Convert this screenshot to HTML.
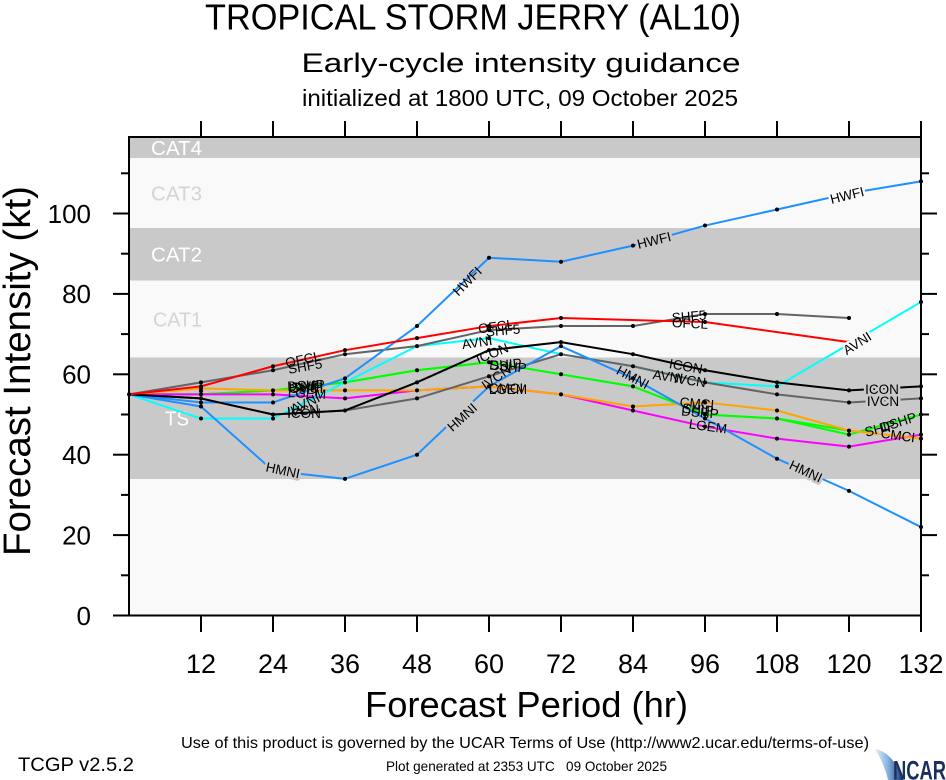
<!DOCTYPE html>
<html>
<head>
<meta charset="utf-8">
<style>
  html,body{margin:0;padding:0;background:#fff;}
  svg{display:block;}
  text{font-family:"Liberation Sans", Arial, sans-serif;}
</style>
</head>
<body>
<svg width="946" height="780" viewBox="0 0 946 780" xmlns="http://www.w3.org/2000/svg">
  <defs>
    <linearGradient id="sw" x1="0" y1="0" x2="1" y2="0">
      <stop offset="0" stop-color="#e3eef9"/>
      <stop offset="0.45" stop-color="#86b6e3"/>
      <stop offset="1" stop-color="#1b3570"/>
    </linearGradient>
  </defs>
  <rect x="0" y="0" width="946" height="780" fill="#ffffff"/>

  <!-- Titles -->
  <text x="473" y="29.5" font-size="36" text-anchor="middle" textLength="536" lengthAdjust="spacingAndGlyphs">TROPICAL STORM JERRY (AL10)</text>
  <text x="521" y="72" font-size="27" text-anchor="middle" textLength="439" lengthAdjust="spacingAndGlyphs">Early-cycle intensity guidance</text>
  <text x="520" y="106" font-size="23" text-anchor="middle" textLength="436" lengthAdjust="spacingAndGlyphs">initialized at 1800 UTC, 09 October 2025</text>

  <!-- Category bands -->
  <rect x="129" y="137" width="792" height="21" fill="#c9c9c9"/>
  <rect x="129" y="158" width="792" height="70" fill="#f9f9f9"/>
  <rect x="129" y="228" width="792" height="52.5" fill="#c9c9c9"/>
  <rect x="129" y="280.5" width="792" height="77" fill="#f9f9f9"/>
  <rect x="129" y="357.5" width="792" height="121.5" fill="#c9c9c9"/>
  <rect x="129" y="479" width="792" height="136.5" fill="#f9f9f9"/>

  <text x="151" y="155" font-size="20" fill="#ffffff" textLength="51" lengthAdjust="spacingAndGlyphs">CAT4</text>
  <text x="151" y="200.7" font-size="20" fill="#d4d4d4" textLength="51" lengthAdjust="spacingAndGlyphs">CAT3</text>
  <text x="151" y="261.7" font-size="20" fill="#ffffff" textLength="51" lengthAdjust="spacingAndGlyphs">CAT2</text>
  <text x="153" y="326.7" font-size="20" fill="#d4d4d4" textLength="49" lengthAdjust="spacingAndGlyphs">CAT1</text>
  <text x="165" y="425.7" font-size="20" fill="#ffffff" textLength="24" lengthAdjust="spacingAndGlyphs">TS</text>

  <!-- Series lines -->
  <g fill="none" stroke-width="2" stroke-linejoin="round" stroke-linecap="round">
    <polyline stroke="#00ff00" points="129,394.4 201,394.4 273,390.38 345,382.34 417,370.28 489,362.24 561,374.3 633,386.36 705,414.5 777,418.52 849,430.58"/>
    <polyline stroke="#00ff00" points="129,394.4 201,394.4 273,390.38 345,382.34 417,370.28 489,362.24 561,374.3 633,386.36 705,414.5 777,418.52 849,434.6 921,414.5"/>
    <polyline stroke="#ff00ff" points="129,394.4 201,394.4 273,394.4 345,398.42 417,390.38 489,386.36 561,394.4 633,410.48 705,426.56 777,438.62 849,446.66 921,434.6"/>
    <polyline stroke="#ffa500" points="129,394.4 201,388.37 273,390.38 345,390.38 417,390.38 489,386.36 561,394.4 633,406.46 705,402.44 777,410.48 849,430.58 921,438.62"/>
    <polyline stroke="#00ffff" points="129,394.4 201,418.52 273,418.52 345,382.34 417,346.16 489,338.12 561,354.2 633,366.26 705,382.34 777,386.36 849,344.15 921,301.94"/>
    <polyline stroke="#646464" points="129,394.4 201,398.42 273,414.5 345,410.48 417,398.42 489,376.31 561,354.2 633,366.26 705,382.34 777,394.4 849,402.44 921,398.42"/>
    <polyline stroke="#646464" points="129,394.4 201,382.34 273,370.28 345,354.2 417,346.16 489,330.08 561,326.06 633,326.06 705,314 777,314 849,318.02"/>
    <polyline stroke="#1e90ff" points="129,394.4 201,406.46 273,470.78 345,478.82 417,454.7 489,386.36 561,346.16 633,378.32 705,418.52 777,458.72 849,490.88 921,527.06"/>
    <polyline stroke="#1e90ff" points="129,394.4 201,402.44 273,402.44 345,378.32 417,326.06 489,257.72 561,261.74 633,245.66 705,225.56 777,209.48 849,193.4 921,181.34"/>
    <polyline stroke="#000000" points="129,394.4 201,398.42 273,414.5 345,410.48 417,382.34 489,350.18 561,342.14 633,354.2 705,370.28 777,382.34 849,390.38 921,386.36"/>
    <polyline stroke="#ff0000" points="129,394.4 201,386.36 273,366.26 345,350.18 417,338.12 489,326.06 561,318.02 705,322.04 849,342.14"/>
  </g>

  <!-- Data point markers -->
  <g fill="#000">
    <circle cx="129" cy="394.4" r="2"/>
    <circle cx="201" cy="382.34" r="2"/><circle cx="201" cy="386.36" r="2"/><circle cx="201" cy="388.37" r="2"/>
    <circle cx="201" cy="394.4" r="2"/><circle cx="201" cy="398.42" r="2"/><circle cx="201" cy="402.44" r="2"/>
    <circle cx="201" cy="406.46" r="2"/><circle cx="201" cy="418.52" r="2"/><circle cx="201" cy="391" r="2"/>
    <circle cx="273" cy="366.26" r="2"/><circle cx="273" cy="370.28" r="2"/><circle cx="273" cy="390.38" r="2"/>
    <circle cx="273" cy="394.4" r="2"/><circle cx="273" cy="402.44" r="2"/><circle cx="273" cy="414.5" r="2"/>
    <circle cx="273" cy="418.52" r="2"/><circle cx="273" cy="470.78" r="2"/>
    <circle cx="345" cy="350.18" r="2"/><circle cx="345" cy="354.2" r="2"/><circle cx="345" cy="378.32" r="2"/>
    <circle cx="345" cy="382.34" r="2"/><circle cx="345" cy="390.38" r="2"/><circle cx="345" cy="398.42" r="2"/>
    <circle cx="345" cy="410.48" r="2"/><circle cx="345" cy="478.82" r="2"/>
    <circle cx="417" cy="326.06" r="2"/><circle cx="417" cy="338.12" r="2"/><circle cx="417" cy="346.16" r="2"/>
    <circle cx="417" cy="370.28" r="2"/><circle cx="417" cy="382.34" r="2"/><circle cx="417" cy="390.38" r="2"/>
    <circle cx="417" cy="398.42" r="2"/><circle cx="417" cy="454.7" r="2"/>
    <circle cx="489" cy="257.72" r="2"/><circle cx="489" cy="326.06" r="2"/><circle cx="489" cy="330.08" r="2"/>
    <circle cx="489" cy="338.12" r="2"/><circle cx="489" cy="350.18" r="2"/><circle cx="489" cy="362.24" r="2"/>
    <circle cx="489" cy="376.31" r="2"/><circle cx="489" cy="386.36" r="2"/>
    <circle cx="561" cy="261.74" r="2"/><circle cx="561" cy="318.02" r="2"/><circle cx="561" cy="326.06" r="2"/>
    <circle cx="561" cy="342.14" r="2"/><circle cx="561" cy="346.16" r="2"/><circle cx="561" cy="354.2" r="2"/>
    <circle cx="561" cy="374.3" r="2"/><circle cx="561" cy="394.4" r="2"/>
    <circle cx="633" cy="245.66" r="2"/><circle cx="633" cy="326.06" r="2"/><circle cx="633" cy="354.2" r="2"/>
    <circle cx="633" cy="366.26" r="2"/><circle cx="633" cy="378.32" r="2"/><circle cx="633" cy="386.36" r="2"/>
    <circle cx="633" cy="406.46" r="2"/><circle cx="633" cy="410.48" r="2"/>
    <circle cx="705" cy="225.56" r="2"/><circle cx="705" cy="314" r="2"/><circle cx="705" cy="322.04" r="2"/>
    <circle cx="705" cy="370.28" r="2"/><circle cx="705" cy="382.34" r="2"/><circle cx="705" cy="402.44" r="2"/>
    <circle cx="705" cy="414.5" r="2"/><circle cx="705" cy="418.52" r="2"/><circle cx="705" cy="426.56" r="2"/>
    <circle cx="777" cy="209.48" r="2"/><circle cx="777" cy="314" r="2"/><circle cx="777" cy="382.34" r="2"/>
    <circle cx="777" cy="386.36" r="2"/><circle cx="777" cy="394.4" r="2"/><circle cx="777" cy="410.48" r="2"/>
    <circle cx="777" cy="418.52" r="2"/><circle cx="777" cy="438.62" r="2"/><circle cx="777" cy="458.72" r="2"/>
    <circle cx="849" cy="193.4" r="2"/><circle cx="849" cy="318.02" r="2"/><circle cx="849" cy="342.14" r="2"/>
    <circle cx="849" cy="344.15" r="2"/><circle cx="849" cy="390.38" r="2"/><circle cx="849" cy="402.44" r="2"/>
    <circle cx="849" cy="430.58" r="2"/><circle cx="849" cy="434.6" r="2"/><circle cx="849" cy="446.66" r="2"/>
    <circle cx="849" cy="490.88" r="2"/>
    <circle cx="921" cy="181.34" r="2"/><circle cx="921" cy="301.94" r="2"/><circle cx="921" cy="386.36" r="2"/>
    <circle cx="921" cy="398.42" r="2"/><circle cx="921" cy="414.5" r="2"/><circle cx="921" cy="434.6" r="2"/>
    <circle cx="921" cy="438.62" r="2"/><circle cx="921" cy="527.06" r="2"/>
  </g>

  <!-- Isolated line labels with band-colour halo (line gaps) -->
  <g font-size="13.5" fill="#000" text-anchor="middle" stroke-width="5" stroke-linejoin="round" paint-order="stroke">
    <text transform="translate(654,240) rotate(-14)" dy="5" stroke="#c9c9c9">HWFI</text>
    <text transform="translate(847,195) rotate(-14)" dy="5" stroke="#f9f9f9">HWFI</text>
    <text transform="translate(283,470) rotate(12)" dy="5" stroke="#c9c9c9">HMNI</text>
    <text transform="translate(462,417) rotate(-42)" dy="5" stroke="#c9c9c9">HMNI</text>
    <text transform="translate(806,471) rotate(25)" dy="5" stroke="#c9c9c9">HMNI</text>
    <text transform="translate(857,343) rotate(-32)" dy="5" stroke="#f9f9f9">AVNI</text>
    <text transform="translate(882,389)" dy="5" stroke="#c9c9c9">ICON</text>
    <text transform="translate(883,401)" dy="5" stroke="#c9c9c9">IVCN</text>
  </g>

  <!-- Other line labels -->
  <g font-size="13.5" fill="#000" text-anchor="middle">
    <text transform="translate(303,359) rotate(-12)" dy="5">OFCL</text>
    <text transform="translate(305,366) rotate(-10)" dy="5">SHF5</text>
    <text transform="translate(306,385) rotate(-3)" dy="5">DSHP</text>
    <text transform="translate(307,387)" dy="5">SHIP</text>
    <text transform="translate(306,388)" dy="5">CMCI</text>
    <text transform="translate(306,386) rotate(-5)" dy="5">HWFI</text>
    <text transform="translate(307,393) rotate(3)" dy="5">LGEM</text>
    <text transform="translate(305,403) rotate(-25)" dy="5">AVNI</text>
    <text transform="translate(303,410) rotate(-5)" dy="5">IVCN</text>
    <text transform="translate(304,413)" dy="5">ICON</text>
    <text transform="translate(467,281) rotate(-45)" dy="5">HWFI</text>
    <text transform="translate(496,326) rotate(-8)" dy="5">OFCL</text>
    <text transform="translate(503,330) rotate(-5)" dy="5">SHF5</text>
    <text transform="translate(477,342) rotate(-8)" dy="5">AVNI</text>
    <text transform="translate(492,353) rotate(-22)" dy="5">ICON</text>
    <text transform="translate(506,364) rotate(-5)" dy="5">SHIP</text>
    <text transform="translate(508,366) rotate(5)" dy="5">DSHP</text>
    <text transform="translate(496,377) rotate(-35)" dy="5">IVCN</text>
    <text transform="translate(508,389)" dy="5">LGEM</text>
    <text transform="translate(506,388)" dy="5">CMCI</text>
    <text transform="translate(689,316) rotate(-5)" dy="5">SHF5</text>
    <text transform="translate(690,323) rotate(3)" dy="5">OFCL</text>
    <text transform="translate(686,366) rotate(10)" dy="5">ICON</text>
    <text transform="translate(668,376) rotate(8)" dy="5">AVNI</text>
    <text transform="translate(690,380) rotate(8)" dy="5">IVCN</text>
    <text transform="translate(633,377) rotate(28)" dy="5">HMNI</text>
    <text transform="translate(697,403) rotate(5)" dy="5">CMCI</text>
    <text transform="translate(698,409) rotate(5)" dy="5">SHIP</text>
    <text transform="translate(700,412) rotate(5)" dy="5">DSHP</text>
    <text transform="translate(708,426) rotate(8)" dy="5">LGEM</text>
    <text transform="translate(880,428) rotate(-15)" dy="5">SHIP</text>
    <text transform="translate(898,422) rotate(-18)" dy="5">DSHP</text>
    <text transform="translate(898,435) rotate(8)" dy="5">CMCI</text>
  </g>

  <!-- Frame -->
  <rect x="129" y="137" width="792" height="478.5" fill="none" stroke="#000" stroke-width="2"/>

  <!-- Ticks -->
  <g stroke="#000" stroke-width="2">
    <line x1="113" y1="615.5" x2="129" y2="615.5"/>
    <line x1="113" y1="535.1" x2="129" y2="535.1"/>
    <line x1="113" y1="454.7" x2="129" y2="454.7"/>
    <line x1="113" y1="374.3" x2="129" y2="374.3"/>
    <line x1="113" y1="293.9" x2="129" y2="293.9"/>
    <line x1="113" y1="213.5" x2="129" y2="213.5"/>
    <line x1="121" y1="575.3" x2="129" y2="575.3"/>
    <line x1="121" y1="494.9" x2="129" y2="494.9"/>
    <line x1="121" y1="414.5" x2="129" y2="414.5"/>
    <line x1="121" y1="334.1" x2="129" y2="334.1"/>
    <line x1="121" y1="253.7" x2="129" y2="253.7"/>
    <line x1="121" y1="173.3" x2="129" y2="173.3"/>
    <line x1="921" y1="535.1" x2="937" y2="535.1"/>
    <line x1="921" y1="454.7" x2="937" y2="454.7"/>
    <line x1="921" y1="374.3" x2="937" y2="374.3"/>
    <line x1="921" y1="293.9" x2="937" y2="293.9"/>
    <line x1="921" y1="213.5" x2="937" y2="213.5"/>
    <line x1="921" y1="575.3" x2="929" y2="575.3"/>
    <line x1="921" y1="494.9" x2="929" y2="494.9"/>
    <line x1="921" y1="414.5" x2="929" y2="414.5"/>
    <line x1="921" y1="334.1" x2="929" y2="334.1"/>
    <line x1="921" y1="253.7" x2="929" y2="253.7"/>
    <line x1="921" y1="173.3" x2="929" y2="173.3"/>
    <line x1="201" y1="615.5" x2="201" y2="632"/>
    <line x1="273" y1="615.5" x2="273" y2="632"/>
    <line x1="345" y1="615.5" x2="345" y2="632"/>
    <line x1="417" y1="615.5" x2="417" y2="632"/>
    <line x1="489" y1="615.5" x2="489" y2="632"/>
    <line x1="561" y1="615.5" x2="561" y2="632"/>
    <line x1="633" y1="615.5" x2="633" y2="632"/>
    <line x1="705" y1="615.5" x2="705" y2="632"/>
    <line x1="777" y1="615.5" x2="777" y2="632"/>
    <line x1="849" y1="615.5" x2="849" y2="632"/>
    <line x1="921" y1="615.5" x2="921" y2="632"/>
    <line x1="201" y1="137" x2="201" y2="121"/>
    <line x1="273" y1="137" x2="273" y2="121"/>
    <line x1="345" y1="137" x2="345" y2="121"/>
    <line x1="417" y1="137" x2="417" y2="121"/>
    <line x1="489" y1="137" x2="489" y2="121"/>
    <line x1="561" y1="137" x2="561" y2="121"/>
    <line x1="633" y1="137" x2="633" y2="121"/>
    <line x1="705" y1="137" x2="705" y2="121"/>
    <line x1="777" y1="137" x2="777" y2="121"/>
    <line x1="849" y1="137" x2="849" y2="121"/>
    <line x1="921" y1="137" x2="921" y2="121"/>
  </g>

  <!-- Y tick labels -->
  <g font-size="26" text-anchor="end" fill="#000">
    <text x="91" y="624.8">0</text>
    <text x="91" y="544.4">20</text>
    <text x="91" y="464">40</text>
    <text x="91" y="383.6">60</text>
    <text x="91" y="303.2">80</text>
    <text x="91" y="222.8">100</text>
  </g>

  <!-- X tick labels -->
  <g font-size="27" text-anchor="middle" fill="#000">
    <text x="201" y="673">12</text>
    <text x="273" y="673">24</text>
    <text x="345" y="673">36</text>
    <text x="417" y="673">48</text>
    <text x="489" y="673">60</text>
    <text x="561" y="673">72</text>
    <text x="633" y="673">84</text>
    <text x="705" y="673">96</text>
    <text x="777" y="673">108</text>
    <text x="849" y="673">120</text>
    <text x="921" y="673">132</text>
  </g>

  <!-- Axis titles -->
  <text transform="translate(30,371) rotate(-90)" font-size="38" text-anchor="middle" textLength="370" lengthAdjust="spacingAndGlyphs">Forecast Intensity (kt)</text>
  <text x="526.5" y="717" font-size="36" text-anchor="middle" textLength="323" lengthAdjust="spacingAndGlyphs">Forecast Period (hr)</text>

  <!-- Footer -->
  <text x="525" y="748" font-size="16" text-anchor="middle" textLength="688" lengthAdjust="spacingAndGlyphs">Use of this product is governed by the UCAR Terms of Use (http://www2.ucar.edu/terms-of-use)</text>
  <text x="18" y="771" font-size="19" textLength="116" lengthAdjust="spacingAndGlyphs">TCGP v2.5.2</text>
  <text x="386" y="771" font-size="14" textLength="281" lengthAdjust="spacingAndGlyphs" xml:space="preserve">Plot generated at 2353 UTC   09 October 2025</text>

  <!-- NCAR logo -->
  <path d="M875 749 Q893 752 903 780 L888 780 Q884 763 875 749 Z" fill="url(#sw)"/>
  <text x="893" y="779.5" font-size="27" font-weight="bold" fill="#1b2f5e" textLength="53" lengthAdjust="spacingAndGlyphs">NCAR</text>
</svg>
</body>
</html>
